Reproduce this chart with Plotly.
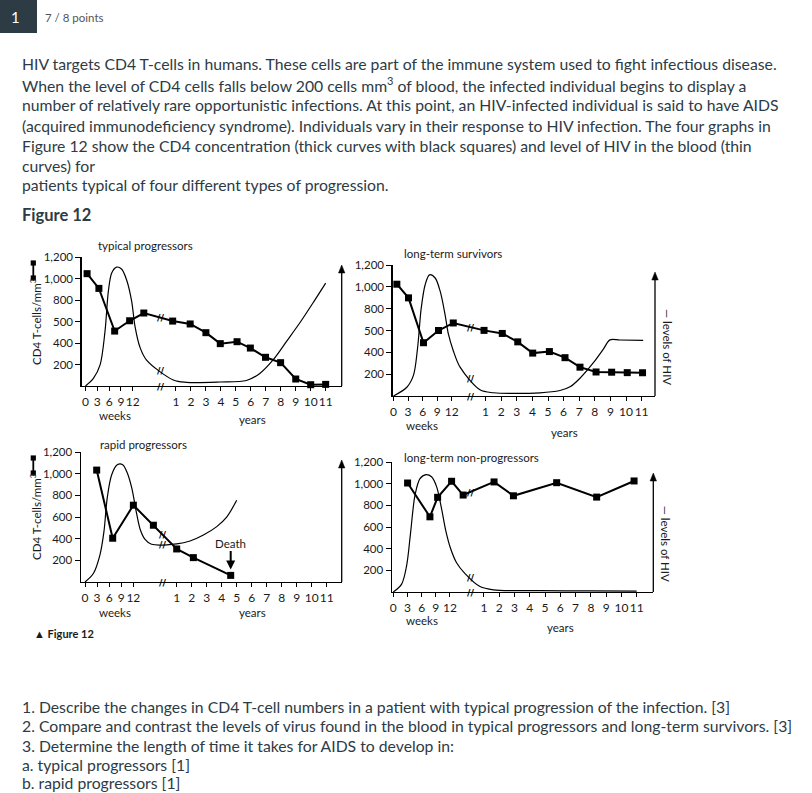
import numpy as np
import plotly.graph_objects as go

W, H = 812, 793

# ---------------- data (weeks / years, CD4 cells per mm3 on the printed scale) ----------------
# typical progressors
tp_cd4_wk = [0.4, 3.4, 7.4, 11.2, 14.8]
tp_cd4_wk_val = [1045, 908, 511, 607, 679]
tp_cd4_yr = [0.78, 1.95, 3.0, 3.96, 5.08, 5.97, 6.98, 7.99, 9.0, 10.0, 11.0]
tp_cd4_yr_val = [604, 577, 496, 394, 412, 353, 267, 217, 65, 12, 15]
tp_hiv_wk = [0, 2.0, 3.7, 4.95, 5.8, 6.65, 7.9, 9.2, 10.5, 11.7, 12.6, 13.8, 15.5]
tp_hiv_wk_val = [0, 70, 196, 508, 880, 1052, 1106, 1086, 979, 791, 547, 363, 241]
tp_hiv_yr = [0.82, 1.71, 3.94, 5.71, 6.6, 7.5, 8.4, 9.3, 10.2, 11.0]
tp_hiv_yr_val = [56, 34, 37, 51, 117, 245, 418, 593, 783, 957]

# long-term survivors
ls_cd4_wk = [0.69, 3.09, 6.17, 9.26, 12.3]
ls_cd4_wk_val = [1024, 899, 488, 600, 669]
ls_cd4_yr = [0.9, 2.07, 3.06, 4.02, 5.09, 6.09, 7.05, 8.08, 9.08, 10.08, 11.06]
ls_cd4_yr_val = [601, 573, 496, 393, 407, 351, 264, 220, 218, 214, 213]
ls_hiv_wk = [0, 2.74, 4.1, 4.94, 5.7, 6.5, 7.4, 8.57, 9.6, 10.6, 11.3, 12.3, 13.7]
ls_hiv_wk_val = [0, 80, 189, 435, 802, 1017, 1110, 1081, 960, 748, 566, 415, 264]
ls_hiv_yr = [0.64, 1.5, 4.49, 5.77, 6.41, 7.05, 7.91, 8.55, 8.97, 9.6, 11.1]
ls_hiv_yr_val = [57, 30, 29, 50, 84, 163, 305, 430, 514, 513, 510]

# rapid progressors
rp_cd4_wk = [2.9, 6.87, 12.0, 16.97]
rp_cd4_wk_val = [1033, 404, 709, 524]
rp_cd4_yr = [1.0, 2.11, 4.6]
rp_cd4_yr_val = [305, 225, 61]
rp_hiv_wk = [0, 2.07, 3.7, 4.7, 5.5, 6.6, 8.0, 9.35, 10.5, 11.6, 12.7, 13.7, 14.9, 16.5]
rp_hiv_wk_val = [0, 78, 249, 465, 772, 988, 1082, 1083, 1006, 868, 653, 485, 393, 348]
rp_hiv_yr = [1.0, 1.89, 2.78, 3.67, 4.33, 5.0]
rp_hiv_yr_val = [352, 378, 433, 511, 599, 754]
rp_death_year = 4.6

# long-term non-progressors
np_cd4_wk = [3.03, 7.76, 9.39, 12.35, 14.8]
np_cd4_wk_val = [1006, 694, 874, 1022, 895]
np_cd4_yr = [1.66, 2.93, 5.76, 8.38, 10.83]
np_cd4_yr_val = [1016, 888, 1009, 876, 1025]
np_hiv_wk = [0, 1.76, 2.82, 3.67, 4.59, 5.65, 6.92, 8.1, 9.17, 10.2, 11.15, 12.1, 13.4, 15.2]
np_hiv_wk_val = [0, 73, 243, 551, 891, 1046, 1084, 1064, 973, 774, 559, 406, 270, 170]
np_hiv_yr = [0.74, 1.62, 4.67, 8.0, 11.0]
np_hiv_yr_val = [50, 20, 12, 10, 8]

week_ticks = [0, 3, 6, 9, 12]
year_ticks = list(range(1, 12))
y_tickvals = [200, 400, 600, 800, 1000, 1200]
y_text_top = ["200", "400", "500", "800", "1,000", "1,200"]
y_text_bottom = ["200", "400", "600", "800", "1,000", "1,200"]

titles = ["typical progressors", "long-term survivors", "rapid progressors", "long-term non-progressors"]

# ---------------- layout constants (pixels) ----------------
panels = [
    dict(title=titles[0], L=81.5, R=341.7, base=386, top=257, w0=85.5, wpx=3.94, y0=161.0, ypx=14.97,
         brk=160, arrow_top=265, yt=y_text_top,
         cd4=(tp_cd4_wk, tp_cd4_wk_val, tp_cd4_yr, tp_cd4_yr_val),
         hiv=(tp_hiv_wk, tp_hiv_wk_val, tp_hiv_yr, tp_hiv_yr_val),
         tpos=(145, 246), weeks=(115, 415), years=(252, 420), left_label=True, right_label=False),
    dict(title=titles[1], L=392.5, R=655.0, base=396, top=265, w0=393.5, wpx=4.86, y0=470.0, ypx=15.6,
         brk=470, arrow_top=272, yt=y_text_top,
         cd4=(ls_cd4_wk, ls_cd4_wk_val, ls_cd4_yr, ls_cd4_yr_val),
         hiv=(ls_hiv_wk, ls_hiv_wk_val, ls_hiv_yr, ls_hiv_yr_val),
         tpos=(453, 253), weeks=(422, 425), years=(564, 432), left_label=False, right_label=True),
    dict(title=titles[2], L=80.7, R=341.7, base=582, top=452, w0=85.0, wpx=4.03, y0=161.7, ypx=15.0,
         brk=162.7, arrow_top=460, yt=y_text_bottom,
         cd4=(rp_cd4_wk, rp_cd4_wk_val, rp_cd4_yr, rp_cd4_yr_val),
         hiv=(rp_hiv_wk, rp_hiv_wk_val, rp_hiv_yr, rp_hiv_yr_val),
         tpos=(143, 445), weeks=(115, 612), years=(253, 612), left_label=True, right_label=False),
    dict(title=titles[3], L=391.7, R=653.3, base=592, top=462, w0=393.3, wpx=4.72, y0=468.7, ypx=15.27,
         brk=470, arrow_top=473, yt=y_text_bottom,
         cd4=(np_cd4_wk, np_cd4_wk_val, np_cd4_yr, np_cd4_yr_val),
         hiv=(np_hiv_wk, np_hiv_wk_val, np_hiv_yr, np_hiv_yr_val),
         tpos=(472, 457), weeks=(422, 620), years=(560, 627), left_label=False, right_label=True),
]

CHART_FONT = "Lato"
TEXT_COLOR = "#2d3b45"
INK = "#1a1a1a"
BODY_SIZE = 15.75


def px(x):
    return x / W


def py(y):
    return 1 - y / H


def to_px(p, wk, yr):
    return np.concatenate([p["w0"] + np.asarray(wk, float) * p["wpx"],
                           p["y0"] + np.asarray(yr, float) * p["ypx"]])


def label(x, y, text, size, color=INK, family=CHART_FONT, xanchor="center", angle=0):
    return dict(x=px(x), y=py(y), xref="paper", yref="paper", text=text, showarrow=False,
                xanchor=xanchor, yanchor="middle", textangle=angle,
                font=dict(family=family, size=size, color=color))


def arrow_up(x, y_tail, y_head, width=1.3, head_w=3.2, head_h=8):
    out = [dict(type="line", xref="paper", yref="paper", x0=px(x), x1=px(x),
                y0=py(y_tail), y1=py(y_head + head_h * 0.6), line=dict(color="black", width=width))]
    path = "M {} {} L {} {} L {} {} Z".format(px(x), py(y_head), px(x - head_w), py(y_head + head_h),
                                              px(x + head_w), py(y_head + head_h))
    out.append(dict(type="path", xref="paper", yref="paper", path=path, fillcolor="black",
                    line=dict(color="black", width=0.5)))
    return out


fig = go.Figure()
annotations = []
shapes = []

for i, p in enumerate(panels):
    n = "" if i == 0 else str(i + 1)
    xa, ya = "x" + n, "y" + n

    hx = to_px(p, p["hiv"][0], p["hiv"][2])
    hy = np.concatenate([p["hiv"][1], p["hiv"][3]])
    cx = to_px(p, p["cd4"][0], p["cd4"][2])
    cy = np.concatenate([p["cd4"][1], p["cd4"][3]])

    fig.add_trace(go.Scatter(x=hx, y=hy, mode="lines", xaxis=xa, yaxis=ya,
                             line=dict(color="black", width=1.2, shape="spline", smoothing=0.9),
                             cliponaxis=False, showlegend=False, hoverinfo="skip"))
    fig.add_trace(go.Scatter(x=cx, y=cy, mode="lines+markers", xaxis=xa, yaxis=ya,
                             line=dict(color="black", width=2.0),
                             marker=dict(symbol="square", size=7, color="black"),
                             cliponaxis=False, showlegend=False, hoverinfo="skip"))

    tickvals = list(p["w0"] + np.array(week_ticks) * p["wpx"]) + list(p["y0"] + np.array(year_ticks) * p["ypx"])
    ticktext = [str(t) for t in week_ticks] + [str(t) for t in year_ticks]
    xkey = "xaxis" + n
    ykey = "yaxis" + n
    fig.update_layout(**{
        xkey: dict(domain=[px(p["L"]), px(p["R"])], range=[p["L"], p["R"]], anchor=ya,
                   showline=True, linecolor="black", linewidth=1.2, ticks="outside", ticklen=4,
                   tickcolor="black", tickwidth=1, tickvals=tickvals, ticktext=ticktext, tickangle=0,
                   tickfont=dict(family=CHART_FONT, size=12, color=INK), automargin=False,
                   showgrid=False, zeroline=False, fixedrange=True),
        ykey: dict(domain=[py(p["base"]), py(p["top"])], range=[0, 1200], anchor=xa,
                   showline=True, linecolor="black", linewidth=1.2, ticks="outside", ticklen=5,
                   tickcolor="black", tickwidth=1, tickvals=y_tickvals, ticktext=p["yt"], tickangle=0,
                   tickfont=dict(family=CHART_FONT, size=11.5, color=INK), automargin=False,
                   showgrid=False, zeroline=False, fixedrange=True),
    })

    # right-hand HIV axis arrow
    shapes.extend(arrow_up(p["R"], p["base"], p["arrow_top"]))

    # break marks on axis and on both curves
    bx = p["brk"]
    order_c = np.argsort(cx)
    order_h = np.argsort(hx)
    for yv in [0, float(np.interp(bx, cx[order_c], cy[order_c])), float(np.interp(bx, hx[order_h], hy[order_h]))]:
        annotations.append(dict(x=bx, y=yv, xref=xa, yref=ya, text="<b>//</b>", showarrow=False,
                                xanchor="center", yanchor="middle",
                                font=dict(family="DejaVu Sans", size=9.5, color="black")))
    # titles and axis words
    annotations.append(label(p["tpos"][0], p["tpos"][1], p["title"], 11.5))
    annotations.append(label(p["weeks"][0], p["weeks"][1], "weeks", 11.5))
    annotations.append(label(p["years"][0], p["years"][1], "years", 11.5))

    if p["left_label"]:
        annotations.append(label(35, p["top"] + 65, "CD4 T-cells/mm<sup>3</sup>", 11.5, angle=-90))
        s_top = p["top"] + 6
        s_bot = p["top"] + 21
        shapes.append(dict(type="line", xref="paper", yref="paper", x0=px(33.3), x1=px(33.3),
                           y0=py(s_top), y1=py(s_bot), line=dict(color="black", width=1.8)))
        for sy in (s_top, s_bot):
            shapes.append(dict(type="rect", xref="paper", yref="paper", x0=px(30.7), x1=px(35.9),
                               y0=py(sy - 2.6), y1=py(sy + 2.6), fillcolor="black",
                               line=dict(color="black", width=0)))
    if p["right_label"]:
        annotations.append(label(p["R"] + 13, p["top"] + 82, "— levels of HIV", 11.5, angle=90))

# death arrow in rapid progressors panel
p3 = panels[2]
annotations.append(dict(x=p3["y0"] + rp_death_year * p3["ypx"], y=115, xref="x3", yref="y3",
                        ax=p3["y0"] + rp_death_year * p3["ypx"], ay=360, axref="x3", ayref="y3",
                        text="Death", showarrow=True, arrowhead=2, arrowsize=0.9, arrowwidth=2,
                        arrowcolor="black", font=dict(family=CHART_FONT, size=11.5, color=INK)))

# ---------------- page text ----------------
shapes.append(dict(type="rect", xref="paper", yref="paper", x0=0, x1=px(37), y0=py(33), y1=py(0),
                   fillcolor="#2d3b45", line=dict(width=0)))
annotations.append(label(15.5, 17, "1", 15, color="white", family="Lato"))
annotations.append(label(43, 17, "7 / 8 points", 11.5, color="#555", family="Lato", xanchor="left"))

para = [
    ("HIV targets CD4 T-cells in humans. These cells are part of the immune system used to fight infectious disease.", 63),
    ("When the level of CD4 cells falls below 200 cells mm<sup>3</sup> of blood, the infected individual begins to display a", 84.5),
    ("number of relatively rare opportunistic infections. At this point, an HIV-infected individual is said to have AIDS", 105),
    ("(acquired immunodeficiency syndrome). Individuals vary in their response to HIV infection. The four graphs in", 125.5),
    ("Figure 12 show the CD4 concentration (thick curves with black squares) and level of HIV in the blood (thin", 146),
    ("curves) for", 165),
    ("patients typical of four different types of progression.", 184),
    ("1. Describe the changes in CD4 T-cell numbers in a patient with typical progression of the infection. [3]", 706),
    ("2. Compare and contrast the levels of virus found in the blood in typical progressors and long-term survivors. [3]", 725.5),
    ("3. Determine the length of time it takes for AIDS to develop in:", 745),
    ("a. typical progressors [1]", 764),
    ("b. rapid progressors [1]", 782.5),
]
for txt, yy in para:
    annotations.append(label(20, yy, txt, BODY_SIZE, color=TEXT_COLOR, family="Lato", xanchor="left"))

annotations.append(label(20, 215, "<b>Figure 12</b>", 16.5, color=TEXT_COLOR, family="Lato", xanchor="left"))
annotations.append(label(32, 633, "<b>▲ Figure 12</b>", 11, xanchor="left"))

fig.update_layout(template="none", width=W, height=H, autosize=False, margin=dict(l=0, r=0, t=0, b=0, pad=0),
                  paper_bgcolor="white", plot_bgcolor="white",
                  annotations=annotations, shapes=shapes, showlegend=False)

fig.write_html("out.html", config={"displayModeBar": False, "staticPlot": True},
               post_script="document.body.style.margin='0';document.body.style.padding='0';")
